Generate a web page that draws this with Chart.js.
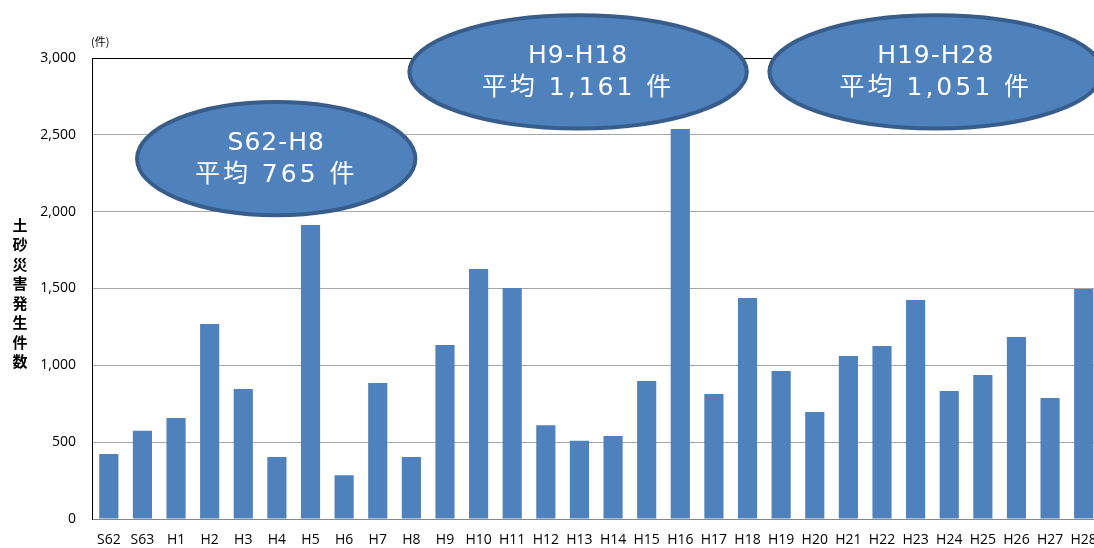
<!DOCTYPE html>
<html lang="ja">
<head>
<meta charset="utf-8">
<title>土砂災害発生件数</title>
<script src="https://cdn.jsdelivr.net/npm/chart.js@4/dist/chart.umd.min.js"></script>
<style>
  html, body { margin: 0; padding: 0; background: #fff; overflow: hidden; }
  #wrap { position: relative; width: 1110px; height: 548px; }
</style>
</head>
<body>
<div id="wrap"><canvas id="chart"></canvas></div>
<script>
// Yearly counts of sediment disasters
const categories = ['S62', 'S63', 'H1', 'H2', 'H3', 'H4', 'H5', 'H6', 'H7', 'H8',
  'H9', 'H10', 'H11', 'H12', 'H13', 'H14', 'H15', 'H16', 'H17', 'H18',
  'H19', 'H20', 'H21', 'H22', 'H23', 'H24', 'H25', 'H26', 'H27', 'H28'];
const counts = [423, 575, 657, 1269, 846, 403, 1913, 284, 885, 403,
  1132, 1627, 1503, 610, 510, 540, 898, 2538, 814, 1438,
  963, 696, 1061, 1126, 1425, 833, 937, 1184, 787, 1497];
const yTicks = [0, 500, 1000, 1500, 2000, 2500, 3000];

// Period averages shown in the badges
const periods = ['S62-H8', 'H9-H18', 'H19-H28'];
const periodAverages = [765, 1161, 1051];

// Badge placement in data units (x: category index, y: count)
const badgeSpots = [
  { x: 4.98, y: 2345, rx: 4.14, ry: 368 },
  { x: 13.96, y: 2910, rx: 5.02, ry: 368 },
  { x: 24.6, y: 2910, rx: 4.95, ry: 368 }
];

const BAR = '#4f81bd';
const fmt = v => v.toLocaleString('en-US');

// ellipse badges with the averages
const badges = {
  id: 'badges',
  afterDatasetsDraw(chart) {
    const { ctx, scales: { x, y } } = chart;
    const step = x.getPixelForValue(1) - x.getPixelForValue(0);
    ctx.save();
    badgeSpots.forEach((b, i) => {
      const cx = x.getPixelForValue(b.x);
      const cy = y.getPixelForValue(b.y);
      const rx = b.rx * step;
      const ry = y.getPixelForValue(0) - y.getPixelForValue(b.ry);
      ctx.beginPath();
      ctx.ellipse(cx, cy, rx, ry, 0, 0, Math.PI * 2);
      ctx.fillStyle = BAR;
      ctx.fill();
      ctx.lineWidth = 4;
      ctx.strokeStyle = '#385d8a';
      ctx.stroke();
      ctx.fillStyle = '#fff';
      ctx.textAlign = 'center';
      ctx.textBaseline = 'middle';
      ctx.font = '25px "DejaVu Sans", "Noto Sans CJK JP", sans-serif';
      ctx.letterSpacing = '1px';
      ctx.fillText(periods[i], cx, cy - 15);
      ctx.letterSpacing = '3px';
      ctx.fillText('平均 ' + fmt(periodAverages[i]) + ' 件', cx, cy + 17);
    });
    ctx.restore();
  }
};

// vertical axis title and unit label
const extras = {
  id: 'extras',
  afterDraw(chart) {
    const { ctx, chartArea } = chart;
    ctx.save();
    ctx.fillStyle = '#000';
    ctx.textAlign = 'center';
    ctx.textBaseline = 'middle';
    ctx.font = 'bold 15px "Noto Sans CJK JP", sans-serif';
    const title = '土砂災害発生件数';
    [...title].forEach((ch, i) => ctx.fillText(ch, 20, 225 + i * 19.5));
    ctx.font = '11px "Noto Sans CJK JP", sans-serif';
    ctx.textAlign = 'left';
    ctx.fillText('(件)', chartArea.left - 1, 42);
    ctx.restore();
  }
};

new Chart(document.getElementById('chart'), {
  type: 'bar',
  data: {
    labels: categories,
    datasets: [{
      data: counts,
      backgroundColor: BAR,
      borderWidth: 0,
      categoryPercentage: 1,
      barPercentage: 0.57
    }]
  },
  options: {
    responsive: true,
    maintainAspectRatio: false,
    animation: false,
    layout: { padding: { top: 58, right: 8, left: 0, bottom: 0 } },
    plugins: { legend: { display: false }, tooltip: { enabled: false } },
    scales: {
      x: {
        grid: { display: false, drawTicks: false },
        border: { color: '#888', width: 1 },
        ticks: {
          color: '#000',
          padding: 13,
          maxRotation: 0,
          autoSkip: false,
          font: { family: '"Open Sans", "Noto Sans", sans-serif', size: 14 }
        },
        afterFit: s => { s.height = 29; }
      },
      y: {
        min: 0,
        max: 3000,
        afterBuildTicks: s => { s.ticks = yTicks.map(v => ({ value: v })); },
        grid: {
          drawTicks: false,
          color: c => c.tick.value === 3000 ? '#000' : '#a6a6a6'
        },
        border: { color: '#000', width: 1 },
        ticks: {
          color: '#000',
          padding: 16,
          callback: v => fmt(v),
          font: { family: '"Open Sans", "Noto Sans", sans-serif', size: 14 }
        },
        afterFit: s => { s.width = 92; }
      }
    }
  },
  plugins: [badges, extras]
});
</script>
</body>
</html>
